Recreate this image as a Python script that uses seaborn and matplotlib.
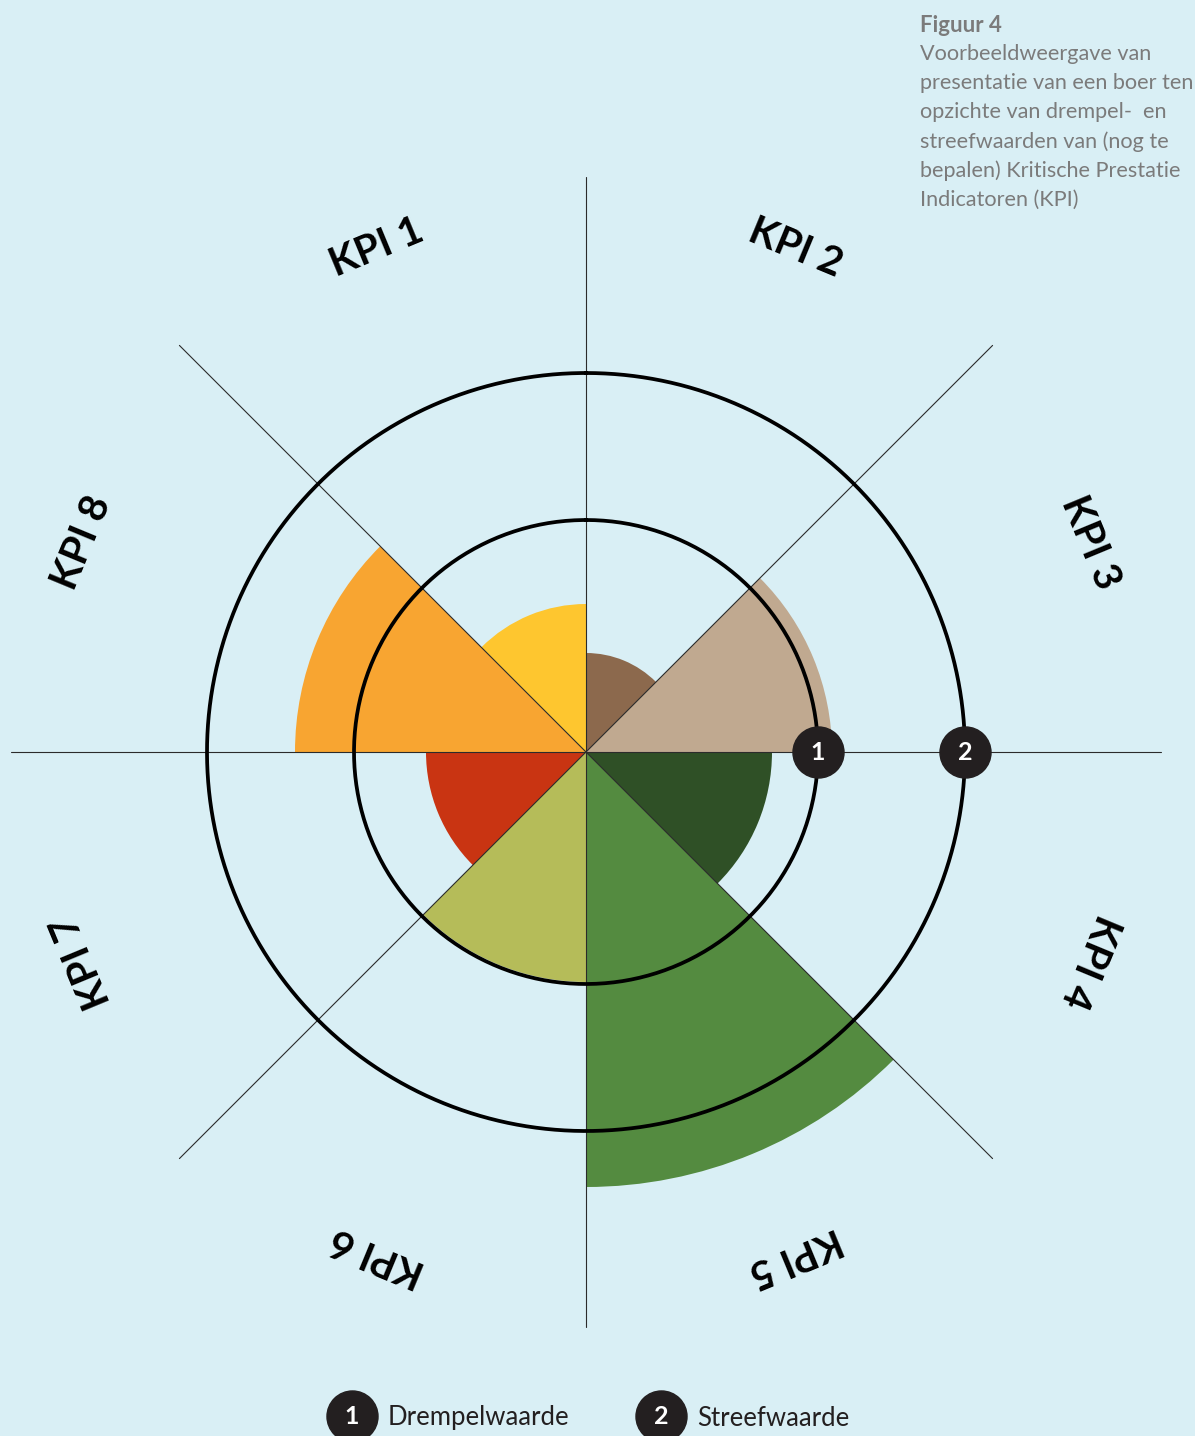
import numpy as np
import matplotlib
matplotlib.use("Agg")
import matplotlib.pyplot as plt
import seaborn as sns

# --- data (radius in chart units, 575 = end of the axis lines) ---
kpis = ["KPI 1", "KPI 2", "KPI 3", "KPI 4", "KPI 5", "KPI 6", "KPI 7", "KPI 8"]
scores = [148, 99, 246, 186, 435, 230, 160, 291]
drempel = 232      # threshold circle
streef = 379       # target circle
r_max = 575

kpi_colors = ["#fec62f", "#8c694d", "#c0a990", "#2f5026",
              "#548b40", "#b5bc59", "#c93412", "#f8a531"]
bg = "#d9eff5"

title = "Figuur 4"
caption = ["Voorbeeldweergave van",
           "presentatie van een boer ten",
           "opzichte van drempel-  en",
           "streefwaarden van (nog te",
           "bepalen) Kritische Prestatie",
           "Indicatoren (KPI)"]
legend_labels = ["Drempelwaarde", "Streefwaarde"]

sns.set_style("white", {"axes.facecolor": bg, "figure.facecolor": bg})
plt.rcParams["font.family"] = ["Lato", "DejaVu Sans"]
palette = sns.color_palette(kpi_colors)

W, H = 1195, 1436
fig = plt.figure(figsize=(W / 100, H / 100), dpi=100, facecolor=bg)

# centre of the rose at (586, 752) px
cx, cy = 586, 752
ax = fig.add_axes([(cx - r_max) / W, (H - cy - r_max) / H,
                   2 * r_max / W, 2 * r_max / H], projection="polar")
ax.set_theta_zero_location("N")
ax.set_theta_direction(-1)
ax.set_ylim(0, r_max)
ax.patch.set_alpha(0)
ax.grid(False)
ax.set_xticks([])
ax.set_yticks([])
ax.spines["polar"].set_visible(False)

centers = np.deg2rad(-22.5 + 45 * np.arange(len(kpis)))
ax.bar(centers, scores, width=np.deg2rad(45), color=palette,
       linewidth=0, zorder=2)

# radial lines
for a in np.deg2rad(np.arange(0, 360, 45)):
    ax.plot([a, a], [0, r_max], color="#2b2b2b", lw=0.8, zorder=3,
            clip_on=False)

# threshold / target circles
th = np.linspace(0, 2 * np.pi, 500)
for r in [drempel, streef]:
    ax.plot(th, np.full_like(th, r), color="black", lw=2.7, zorder=4)

# numbered markers
for i, r in enumerate([drempel, streef]):
    ax.scatter([np.pi / 2], [r], s=1350, color="#231f20", zorder=5,
               clip_on=False)
    ax.text(np.pi / 2, r, str(i + 1), color="white", fontsize=18,
            fontweight="bold", ha="center", va="center", zorder=6)

# KPI labels
for c, name in zip(centers, kpis):
    ax.text(c, 546, name, rotation=-np.rad2deg(c), rotation_mode="anchor",
            ha="center", va="center", fontsize=29, fontweight="bold",
            color="black")

# caption top right
fig.text(920 / W, 1 - 25 / H, title, fontsize=16, fontweight="bold",
         color="#7b7b7b", ha="left", va="center")
for k, line in enumerate(caption):
    fig.text(920 / W, 1 - (54 + 29.2 * k) / H, line, fontsize=15.6,
             color="#7b7b7b", ha="left", va="center")

# legend
ann = fig.add_axes([0, 0, 1, 1], zorder=-1)
ann.set_xlim(0, W)
ann.set_ylim(H, 0)
ann.axis("off")
for i, (x, lab) in enumerate(zip([352, 661], legend_labels)):
    ann.scatter([x], [1416], s=1350, color="#231f20", clip_on=False)
    ann.text(x, 1416, str(i + 1), color="white", fontsize=18,
             fontweight="bold", ha="center", va="center")
    ann.text(x + 36, 1418, lab, fontsize=18.5, color="#231f20",
             ha="left", va="center")

fig.savefig("out.png", dpi=100, facecolor=bg)
